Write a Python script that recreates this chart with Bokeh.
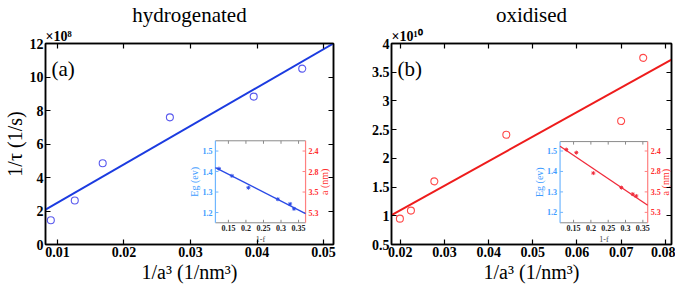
import math
from bokeh.plotting import figure
from bokeh.models import Range1d, LinearAxis, FixedTicker, NumeralTickFormatter, Label, Title
from bokeh.core.properties import value
from bokeh.layouts import row
from bokeh.embed import file_html
from bokeh.resources import INLINE

FONT = "Liberation Serif"

# ---------------- data: panel (a) hydrogenated ----------------
a_inv_a3 = [0.0090, 0.0126, 0.0168, 0.0269, 0.0395, 0.0468]
a_inv_tau = [1.45, 2.63, 4.85, 7.59, 8.83, 10.5]          # x1e8 1/s
a_fit_x = [0.0082, 0.0515]
a_fit_y = [2.08, 12.0]
a_xticks = [0.01, 0.02, 0.03, 0.04, 0.05]
a_yticks = [0, 2, 4, 6, 8, 10, 12]

# ---------------- data: panel (b) oxidised ----------------
b_inv_a3 = [0.0199, 0.0224, 0.0277, 0.0440, 0.0700, 0.0750]
b_inv_tau = [0.95, 1.09, 1.60, 2.41, 2.65, 3.75]           # x1e10 1/s
b_fit_x = [0.018, 0.0814]
b_fit_y = [1.01, 3.72]
b_xticks = [0.02, 0.03, 0.04, 0.05, 0.06, 0.07, 0.08]
b_yticks = [0.5, 1, 1.5, 2, 2.5, 3, 3.5, 4]

# ---------------- data: insets ----------------
ia_f = [0.123, 0.160, 0.207, 0.291, 0.326, 0.337]
ia_eg = [1.414, 1.379, 1.321, 1.265, 1.242, 1.218]
ia_fit_f = [0.113, 0.37]
ia_fit_eg = [1.419, 1.195]
ib_f = [0.129, 0.158, 0.207, 0.288, 0.321, 0.331]
ib_eg = [1.507, 1.492, 1.392, 1.321, 1.289, 1.280]
ib_fit_f = [0.111, 0.364]
ib_fit_eg = [1.523, 1.235]
inset_fticks = [0.15, 0.2, 0.25, 0.3, 0.35]
inset_flabels = ["0.15", "0.2", "0.25", "0.3", "0.35"]
inset_egticks = [1.2, 1.3, 1.4, 1.5]
inset_eglabels = ["1.2", "1.3", "1.4", "1.5"]
inset_a_labels = ["5.3", "3.5", "2.8", "2.4"]

FRAME_H = 201


def style_main_axis(ax):
    ax.axis_line_width = 1.5
    ax.axis_line_color = "black"
    ax.major_tick_line_color = "black"
    ax.major_tick_line_width = 1.2
    ax.major_tick_in = 5
    ax.major_tick_out = 0
    ax.minor_tick_line_color = None
    ax.major_label_text_font = FONT
    ax.major_label_text_font_style = "bold"
    ax.major_label_text_font_size = "14px"
    ax.major_label_text_color = "black"
    ax.major_label_standoff = 2
    ax.axis_label_text_font = FONT
    ax.axis_label_text_font_style = "normal"
    ax.axis_label_text_font_size = "20px"
    ax.axis_label_text_color = "black"
    ax.axis_label_standoff = 1


def main_panel(title, xr, yr, xt, yt, fx, fy, px, py, lcolor, mcolor, tag, mult,
               fw, bl, br, ylabel):
    p = figure(frame_width=fw, frame_height=FRAME_H,
               x_range=Range1d(*xr), y_range=Range1d(*yr), title=None,
               output_backend="svg", toolbar_location=None,
               min_border_left=bl, min_border_right=br, min_border_top=40,
               min_border_bottom=40, outline_line_color="black",
               outline_line_width=1.5)
    p.grid.visible = False

    p.xaxis.ticker = FixedTicker(ticks=xt)
    p.yaxis.ticker = FixedTicker(ticks=yt)
    p.yaxis.formatter = NumeralTickFormatter(format="0.[0]")
    p.xaxis.axis_label = "1/a³ (1/nm³)"
    if ylabel:
        p.yaxis.axis_label = ylabel
    style_main_axis(p.xaxis[0])
    style_main_axis(p.yaxis[0])

    top = LinearAxis(ticker=FixedTicker(ticks=xt))
    right = LinearAxis(ticker=FixedTicker(ticks=yt))
    for ax in (top, right):
        style_main_axis(ax)
        ax.major_label_text_font_size = "1px"
        ax.major_label_text_color = None
        ax.major_label_standoff = 0
    p.add_layout(top, "above")
    p.add_layout(right, "right")
    p.add_layout(Title(text=mult, align="left", text_font=FONT,
                       text_font_style="bold", text_font_size="14px",
                       text_color="black", standoff=0), "above")
    p.add_layout(Title(text=title, align="center", text_font=FONT,
                       text_font_style="normal", text_font_size="21px",
                       text_color="black", standoff=0), "above")

    p.line(fx, fy, line_color=lcolor, line_width=2)
    p.scatter(px, py, marker="circle", size=7, fill_color=None,
              line_color=mcolor, line_width=1.1)

    p.add_layout(Label(x=xr[0], y=yr[1], text=tag, x_offset=6, y_offset=-13,
                       text_baseline="top", text_font=FONT,
                       text_font_size="21px", text_color="black"))
    return p


def inset_range(d0, d1, u0, u1):
    span = (d1 - d0) / (u1 - u0)
    start = d0 - u0 * span
    return Range1d(start=start, end=start + span)


def draw_inset(p, xr, yr, ux, uy, fx, fy, px, py, lcolor, roff):
    p.extra_x_ranges = {"ix": inset_range(xr[0], xr[1], ux[0], ux[1])}
    p.extra_y_ranges = {"iy": inset_range(yr[0], yr[1], uy[0], uy[1])}
    kw = dict(x_range_name="ix", y_range_name="iy")
    blue_ax, blue_lab = "#6fb6ff", "#3d9cff"
    red_ax, red_lab = "#ff8080", "#ff3030"
    gray = "#8a8a8a"
    f0, f1 = xr
    e0, e1 = yr
    nf, ne = len(inset_fticks), len(inset_egticks)

    p.quad(left=[f0], right=[f1], bottom=[e0], top=[e1], fill_color="white",
           line_color=None, **kw)
    # spines
    p.segment(x0=[f0, f0], y0=[e0, e1], x1=[f1, f1], y1=[e0, e1],
              line_color=gray, line_width=1, **kw)
    p.segment(x0=[f0], y0=[e0], x1=[f0], y1=[e1], line_color=blue_ax,
              line_width=1.2, **kw)
    p.segment(x0=[f1], y0=[e0], x1=[f1], y1=[e1], line_color=red_ax,
              line_width=1.2, **kw)
    # ticks
    p.ray(x=inset_fticks, y=[e0] * nf, length=3, length_units="screen",
          angle=math.pi / 2, line_color=gray, **kw)
    p.ray(x=inset_fticks, y=[e1] * nf, length=3, length_units="screen",
          angle=-math.pi / 2, line_color=gray, **kw)
    p.ray(x=[f0] * ne, y=inset_egticks, length=3, length_units="screen",
          angle=0, line_color=blue_ax, **kw)
    p.ray(x=[f1] * ne, y=inset_egticks, length=3, length_units="screen",
          angle=math.pi, line_color=red_ax, **kw)
    # tick labels
    tstyle = dict(text_font=value(FONT), text_font_style=value("bold"),
                  text_font_size=value("8px"))
    p.text(x=inset_fticks, y=[e0] * nf, text=inset_flabels, y_offset=2,
           text_align="center", text_baseline="top", text_color="#222222",
           **tstyle, **kw)
    p.text(x=[f0] * ne, y=inset_egticks, text=inset_eglabels, x_offset=-3,
           text_align="right", text_baseline="middle", text_color=blue_lab,
           **tstyle, **kw)
    p.text(x=[f1] * ne, y=inset_egticks, text=inset_a_labels, x_offset=3,
           text_align="left", text_baseline="middle", text_color=red_lab,
           **tstyle, **kw)
    # axis labels
    lstyle = dict(text_font=value(FONT), text_font_style=value("normal"))
    p.text(x=[(f0 + f1) / 2], y=[e0], text=["1-f"], y_offset=12,
           text_align="center", text_baseline="top", text_color="#444444",
           text_font_size=value("8px"), **lstyle, **kw)
    p.text(x=[f0], y=[(e0 + e1) / 2], text=["Eg (ev)"], x_offset=-15,
           angle=math.pi / 2, text_align="center", text_baseline="bottom",
           text_color=blue_lab, text_font_size=value("10px"), **lstyle, **kw)
    p.text(x=[f1], y=[(e0 + e1) / 2], text=["a (nm)"], x_offset=roff,
           angle=math.pi / 2, text_align="center", text_baseline="top",
           text_color=red_lab, text_font_size=value("10px"), **lstyle, **kw)
    # data
    p.line(fx, fy, line_color=lcolor, line_width=1.3, **kw)
    p.scatter(px, py, marker="asterisk", size=4, line_color=lcolor,
              line_width=1, **kw)


pa = main_panel("hydrogenated", (0.0082, 0.0515), (0, 12), a_xticks, a_yticks,
                a_fit_x, a_fit_y, a_inv_a3, a_inv_tau, "#1b3be0", "#5a5aee",
                "(a)", "×10⁸", 288, 44, 8, "1/τ (1/s)")
pb = main_panel("oxidised", (0.018, 0.0814), (0.5, 4), b_xticks, b_yticks,
                b_fit_x, b_fit_y, b_inv_a3, b_inv_tau, "#ee1c1c", "#ff4a4a",
                "(b)", "×10¹⁰", 280, 50, 4, None)

draw_inset(pa, (0.113, 0.37), (1.15, 1.55), (0.590, 0.903), (0.108, 0.516),
           ia_fit_f, ia_fit_eg, ia_f, ia_eg, "#2a4ae6", 13)
draw_inset(pb, (0.111, 0.364), (1.149, 1.546), (0.602, 0.915), (0.108, 0.512),
           ib_fit_f, ib_fit_eg, ib_f, ib_eg, "#f02a3a", 12)

layout = row(pa, pb)
open("out.html", "w").write(file_html(layout, INLINE))
